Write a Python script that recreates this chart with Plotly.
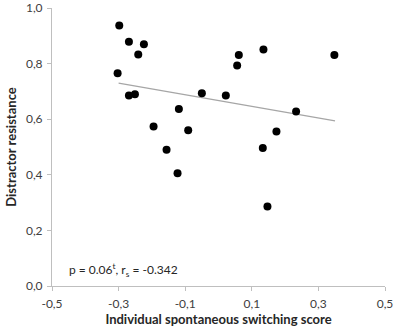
import numpy as np
import plotly.graph_objects as go

x_vals = [-0.298, -0.269, -0.224, -0.241, -0.303, -0.269, -0.251, -0.119, -0.195, -0.091,
          -0.156, -0.050, -0.123, 0.022, 0.061, 0.056, 0.135, 0.348, 0.233, 0.174, 0.133, 0.147]
y_vals = [0.937, 0.879, 0.870, 0.833, 0.765, 0.685, 0.690, 0.637, 0.574, 0.560,
          0.490, 0.693, 0.406, 0.685, 0.831, 0.793, 0.851, 0.831, 0.628, 0.556, 0.496, 0.286]
trend_x = [-0.30, 0.35]
trend_y = [0.730, 0.594]

x_ticks = [-0.5, -0.3, -0.1, 0.1, 0.3, 0.5]
x_ticktext = ["-0,5", "-0,3", "-0,1", "0,1", "0,3", "0,5"]
y_ticks = [0.0, 0.2, 0.4, 0.6, 0.8, 1.0]
y_ticktext = ["0,0", "0,2", "0,4", "0,6", "0,8", "1,0"]

font = "Lato, Open Sans, sans-serif"

fig = go.Figure()
fig.add_trace(go.Scatter(x=trend_x, y=trend_y, mode="lines",
                         line=dict(color="#a6a6a6", width=1.2), hoverinfo="skip"))
fig.add_trace(go.Scatter(x=x_vals, y=y_vals, mode="markers",
                         marker=dict(color="black", size=8)))

axis_common = dict(showgrid=False, zeroline=False, showline=True, linecolor="#bfbfbf",
                   linewidth=1, ticks="outside", ticklen=4, tickcolor="#bfbfbf",
                   tickfont=dict(family=font, size=12, color="#404040"))

fig.update_layout(
    width=397, height=330,
    margin=dict(l=52, r=12, t=8, b=44),
    plot_bgcolor="white", paper_bgcolor="white",
    showlegend=False,
    xaxis=dict(range=[-0.5, 0.5], tickvals=x_ticks, ticktext=x_ticktext,
               ticklabelstandoff=3,
               title=dict(text="<b>Individual spontaneous switching score</b>",
                          font=dict(family=font, size=13, color="#262626"), standoff=4),
               automargin=False, **axis_common),
    yaxis=dict(range=[0, 1.0], tickvals=y_ticks, ticktext=y_ticktext,
               ticklabelstandoff=2,
               title=dict(text="<b>Distractor resistance</b>",
                          font=dict(family=font, size=13, color="#262626"), standoff=6),
               automargin=False, **axis_common),
    annotations=[dict(x=-0.456, y=0.059, xref="x", yref="y", xanchor="left", yanchor="middle",
                      text="p = 0.06<sup>t</sup>, r<sub>s</sub> = -0.342", showarrow=False,
                      font=dict(family=font, size=12, color="#262626"))],
)

fig.write_html("out.html", config={"displayModeBar": False},
               post_script="document.body.style.margin='0';")
